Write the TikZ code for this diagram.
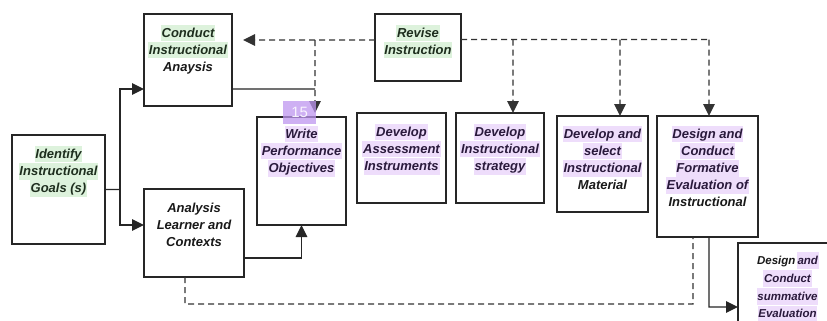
\documentclass[tikz,border=0pt]{standalone}
\usepackage{fontspec}
\setmainfont{Liberation Sans}
\usetikzlibrary{arrows.meta}
\definecolor{hlg}{HTML}{DDF2DC}
\definecolor{hlp}{HTML}{EEDDFB}
\definecolor{tg}{HTML}{1E2E1E}
\definecolor{tp}{HTML}{2A1A3C}
\definecolor{badgec}{HTML}{BE96F0}
\newcommand\hs{\rule[-3.6bp]{0pt}{15.2bp}}
\newcommand\hg[1]{{\setlength\fboxsep{0.8pt}\colorbox{hlg}{\color{tg}\hs #1}}}
\newcommand\hp[1]{{\setlength\fboxsep{0.8pt}\colorbox{hlp}{\color{tp}\hs #1}}}
\newcommand\pl[1]{{\setlength\fboxsep{0.8pt}\colorbox{white}{\hs #1}}}
\begin{document}
\begin{tikzpicture}[x=1bp,y=-1bp,
  box/.style={draw=black!85,line width=1.4bp,inner sep=0,outer sep=0,anchor=north west,fill=white},
  txt/.style={inner sep=0,anchor=north,align=center,font=\fontsize{13bp}{17bp}\selectfont\bfseries\itshape,text=black!90},
  stxt/.style={inner sep=0,anchor=north,align=center,font=\fontsize{11.5bp}{16bp}\selectfont\bfseries\itshape,text=black!90},
  ln/.style={draw=black!85,line width=1.3bp},
  dsh/.style={draw=black!80,line width=1.3bp,dash pattern=on 6bp off 4bp},
  arr/.style={-{Triangle[length=12bp,width=11.5bp]}}]
\useasboundingbox (0,0) rectangle (827,320);
\clip (0,0) rectangle (827,320);
\fill[white] (0,0) rectangle (827,320);

% boxes
\node[box,minimum width=93bp,minimum height=109bp] (identify) at (12,135) {};
\node[box,minimum width=88bp,minimum height=92bp] (conduct) at (144,14) {};
\node[box,minimum width=86bp,minimum height=67bp] (revise) at (375,14) {};
\node[box,minimum width=100bp,minimum height=88bp] (analysis) at (144,189) {};
\node[box,minimum width=89bp,minimum height=108bp] (write) at (257,117) {};
\node[box,minimum width=89bp,minimum height=90bp] (assess) at (357,113) {};
\node[box,minimum width=88bp,minimum height=90bp] (strat) at (456,113) {};
\node[box,minimum width=91bp,minimum height=96bp] (mater) at (557,116) {};
\node[box,minimum width=101bp,minimum height=121bp] (form) at (657,116) {};
\node[box,minimum width=100bp,minimum height=90bp] (summ) at (738,243) {};

% texts
\node[txt] (identifyt) at ([yshift=-10.5bp]identify.north) {\hg{Identify}\\\hg{Instructional}\\\hg{Goals (s)}};
\node[txt] (conductt) at ([yshift=-10.5bp]conduct.north) {\hg{Conduct}\\\hg{Instructional}\\\pl{Anaysis}};
\node[txt] (reviset) at ([yshift=-10.5bp]revise.north) {\hg{Revise}\\\hg{Instruction}};
\node[txt] (analysist) at ([yshift=-10.5bp]analysis.north) {\pl{Analysis}\\\pl{Learner and}\\\pl{Contexts}};
\node[txt] (writet) at ([yshift=-8.5bp]write.north) {\hp{Write}\\\hp{Performance}\\\hp{Objectives}};
\node[txt] (assesst) at ([yshift=-10.5bp]assess.north) {\hp{Develop}\\\hp{Assessment}\\\hp{Instruments}};
\node[txt] (stratt) at ([yshift=-10.5bp]strat.north) {\hp{Develop}\\\hp{Instructional}\\\hp{strategy}};
\node[txt] (matert) at ([yshift=-9.5bp]mater.north) {\hp{Develop and}\\\hp{select}\\\hp{Instructional}\\\pl{Material}};
\node[txt] (formt) at ([yshift=-9.5bp]form.north) {\hp{Design and}\\\hp{Conduct}\\\hp{Formative}\\\hp{Evaluation of}\\\pl{Instructional}};
\node[stxt] (summt) at ([xshift=-0.5bp,yshift=-9bp]summ.north) {\pl{Design}\hspace{0.5pt}\hp{and}\\\hp{Conduct}\\\hp{summative}\\\hp{Evaluation}};

% connectors
\coordinate (jn) at (120,189.5);
\draw[ln] (identify.east) -- (jn);
\draw[ln,arr] (jn) |- ([yshift=17bp]conduct.south west);
\draw[ln,arr] (jn) |- ([yshift=8bp]analysis.west);

\coordinate (cj) at (315,89);
\draw[ln] ([yshift=17bp]conduct.south east) -- (cj);

\coordinate (ra) at (243,40);
\coordinate (rb) at (315,40);
\draw[dsh,arr] ([yshift=7.5bp]revise.west) -- (ra);
\draw[dsh,arr] (rb) -- ([xshift=13.5bp,yshift=4bp]write.north);

\coordinate (r1) at (513,39.5);
\coordinate (r2) at (620,39.5);
\coordinate (r3) at (709,39.5);
\draw[dsh] ([yshift=8bp]revise.east) -- (r3);
\draw[dsh,arr] (r1) -- ([xshift=13bp]strat.north);
\draw[dsh,arr] (r2) -- ([xshift=17.5bp]mater.north);
\draw[dsh,arr] (r3) -- ([xshift=1.5bp]form.north);

\draw[ln,arr] ([yshift=-25bp]analysis.east) -| (write.south);

\coordinate (d1) at (185,304);
\coordinate (d2) at (693,304);
\draw[dsh] ([xshift=-9bp]analysis.south) -- (d1) -- (d2) -- ([xshift=-14.5bp]form.south);

\coordinate (s1) at (709,307);
\draw[ln,arr] ([xshift=1.5bp]form.south) -- (s1) -- (summ.west |- s1);

% badge
\node[fill=badgec,fill opacity=0.75,text opacity=0.95,text=white!92!badgec,inner sep=0,minimum width=33bp,minimum height=23bp,anchor=north west,font=\fontsize{15bp}{15bp}\selectfont] (badge) at (283,101) {15};
\end{tikzpicture}
\end{document}
